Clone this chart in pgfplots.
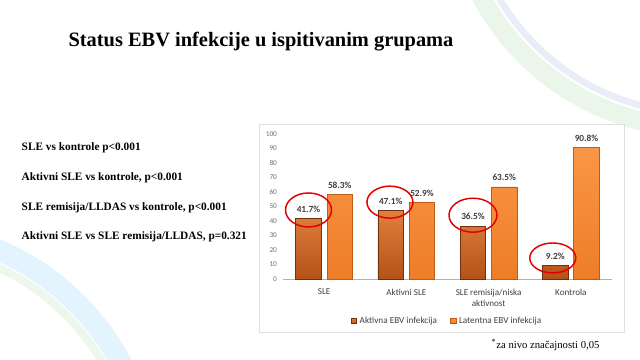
\documentclass[border=0pt]{standalone}
\usepackage{pgfplots}
\pgfplotsset{compat=1.18}
\usepackage{fontspec}
\setmainfont{Liberation Serif}
\newfontfamily\chartfont{Carlito}
\definecolor{darktop}{RGB}{224,128,62}
\definecolor{darkbot}{RGB}{180,82,24}
\definecolor{darkedge}{RGB}{110,50,15}
\definecolor{lighttop}{RGB}{250,150,70}
\definecolor{lightbot}{RGB}{238,125,40}
\definecolor{lightedge}{RGB}{190,92,22}
\definecolor{txtgray}{RGB}{64,64,64}
\definecolor{tickgray}{RGB}{110,110,110}
\begin{document}
\begin{tikzpicture}
\begin{scope}[x=0.75pt,y=-0.75pt]
\path[use as bounding box, fill=white] (0,0) rectangle (640,360);
\begin{scope}
\clip (0,0) rectangle (640,360);
\draw[line width=14, green!40!gray!12] (700,-120) circle (248);
\draw[line width=5, cyan!40!blue!8] (700,-120) circle (233);
\draw[line width=16, blue!40!cyan!11] (-100,480) circle (250);
\draw[line width=6, green!40!gray!10] (-100,480) circle (234);
\end{scope}
\draw[gray!25, fill=white] (259,124) rectangle (624,332);
\node[anchor=center, font=\bfseries\fontsize{15.3}{18}\selectfont] at (261,42) {Status EBV infekcije u ispitivanim grupama};
\node[anchor=west, font=\bfseries\fontsize{8.5}{10}\selectfont] at (17,148) {SLE vs kontrole p<0.001};
\node[anchor=west, font=\bfseries\fontsize{8.5}{10}\selectfont] at (17,178) {Aktivni SLE vs kontrole, p<0.001};
\node[anchor=west, font=\bfseries\fontsize{8.5}{10}\selectfont] at (17,208) {SLE remisija/LLDAS vs kontrole, p<0.001};
\node[anchor=west, font=\bfseries\fontsize{8.5}{10}\selectfont] at (17,237) {Aktivni SLE vs SLE remisija/LLDAS, p=0.321};
\node[anchor=west, font=\fontsize{8}{9}\selectfont] at (487,345) {\textsuperscript{*}za nivo značajnosti 0,05};
\end{scope}
\begin{axis}[
  at={(212.25pt,-209.25pt)}, anchor=south west,
  scale only axis, width=246.75pt, height=108.75pt,
  xmin=-0.5, xmax=3.5, ymin=0, ymax=100,
  axis x line*=bottom, axis y line*=left,
  y axis line style={draw=none},
  x axis line style={draw=gray!60, line width=0.5pt},
  major tick length=0pt,
  ytick={0,10,...,100},
  xtick={0,1,2,3},
  xticklabels={SLE,Aktivni SLE,{SLE remisija/niska\\aktivnost},Kontrola},
  xticklabel style={align=center, font=\chartfont\fontsize{6.8}{8}\selectfont, text=txtgray, yshift=-4pt},
  yticklabel style={font=\chartfont\fontsize{5.5}{6}\selectfont, text=tickgray, xshift=-1pt},
  /pgf/number format/assume math mode=true,
  ybar, bar width=0.31,
  nodes near coords, point meta=explicit symbolic,
  every node near coord/.append style={font=\chartfont\bfseries\fontsize{7}{8}\selectfont, text=txtgray, yshift=1pt},
  legend style={at={(0.5,-0.29)}, anchor=center, draw=none, fill=none,
    legend columns=2, font=\chartfont\fontsize{6.9}{8}\selectfont, text=txtgray,
    /tikz/every even column/.append style={column sep=8pt}},
  legend image code/.code={\fill[#1] (0cm,-0.07cm) rectangle (0.14cm,0.07cm);},
  clip=false,
]
\addplot[top color=darktop, bottom color=darkbot, draw=darkedge, line width=0.5pt, bar shift=-0.19] coordinates {
 (0,41.7) [41.7\%]
 (1,47.1) [47.1\%]
 (2,36.5) [36.5\%]
 (3,9.2) [9.2\%]
};
\addlegendentry{Aktivna EBV infekcija}
\addplot[top color=lighttop, bottom color=lightbot, draw=lightedge, line width=0.5pt, bar shift=0.19] coordinates {
 (0,58.3) [58.3\%]
 (1,52.9) [52.9\%]
 (2,63.5) [63.5\%]
 (3,90.8) [90.8\%]
};
\addlegendentry{Latentna EBV infekcija}
\draw[red!90!black, line width=1.1pt] (axis cs:-0.19,47.6) ellipse [x radius=17.25pt, y radius=12.75pt];
\draw[red!90!black, line width=1.1pt] (axis cs:0.80,53) ellipse [x radius=17.25pt, y radius=12pt];
\draw[red!90!black, line width=1.1pt] (axis cs:1.81,44) ellipse [x radius=18pt, y radius=12.75pt];
\draw[red!90!black, line width=1.1pt] (axis cs:2.78,14.5) ellipse [x radius=17.25pt, y radius=11.25pt];
\end{axis}
\end{tikzpicture}
\end{document}
